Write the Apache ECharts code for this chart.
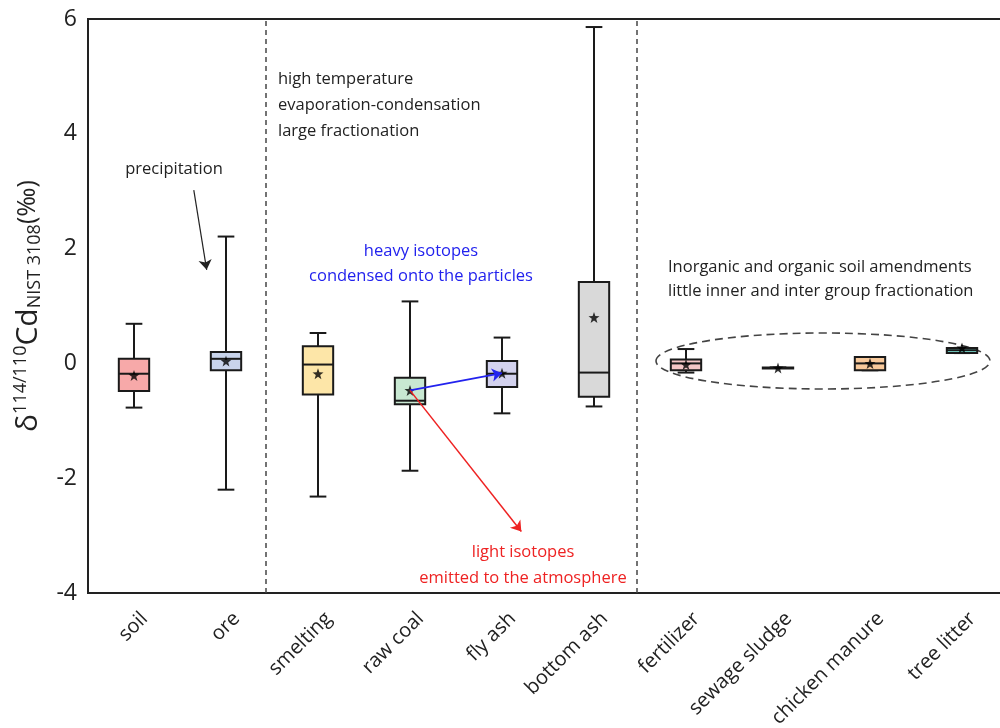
<!DOCTYPE html>
<html>
<head>
<meta charset="utf-8">
<script src="https://cdn.jsdelivr.net/npm/echarts@6/dist/echarts.min.js"></script>
<style>
  html, body { margin: 0; padding: 0; background: #fff; }
  #main { width: 1000px; height: 728px; }
</style>
</head>
<body>
<div id="main"></div>
<script>
// categories and box statistics (per mil)
var categories = ['soil', 'ore', 'smelting', 'raw coal', 'fly ash', 'bottom ash',
    'fertilizer', 'sewage sludge', 'chicken manure', 'tree litter'];
var lowWhisker = [-0.77, -2.20, -2.32, -1.87, -0.87, -0.75, -0.16, -0.08, -0.12, 0.18];
var q1 = [-0.48, -0.12, -0.54, -0.71, -0.41, -0.58, -0.12, -0.09, -0.12, 0.18];
var median = [-0.18, 0.08, -0.02, -0.65, -0.18, -0.16, 0.00, -0.08, 0.00, 0.23];
var q3 = [0.08, 0.20, 0.30, -0.25, 0.04, 1.42, 0.07, -0.07, 0.11, 0.27];
var highWhisker = [0.69, 2.21, 0.53, 1.08, 0.45, 5.86, 0.25, -0.07, 0.11, 0.27];
var mean = [-0.21, 0.04, -0.18, -0.47, -0.17, 0.80, -0.02, -0.08, 0.00, 0.27];
var boxColors = ['#f7a9a9', '#c9d4ec', '#fde6a8', '#c8e8d2', '#d3d2ee', '#d9d9d9',
    '#f5c6c6', '#eeeeee', '#f8c99b', '#80e6da'];

var star = 'path://M0,-10 L2.35,-3.24 L9.51,-3.09 L3.8,1.24 L5.88,8.09 L0,4 L-5.88,8.09 L-3.8,1.24 L-9.51,-3.09 L-2.35,-3.24 Z';
var textFont = '"Open Sans", sans-serif';
var noteFont = '16.5px ' + textFont;

var boxData = categories.map(function (c, i) {
    return [i, lowWhisker[i], q1[i], median[i], q3[i], highWhisker[i]];
});
var meanData = categories.map(function (c, i) {
    return [i, mean[i]];
});

function renderBox(params, api) {
    var i = api.value(0);
    var lo = api.coord([i, api.value(1)]);
    var b1 = api.coord([i, api.value(2)]);
    var md = api.coord([i, api.value(3)]);
    var b3 = api.coord([i, api.value(4)]);
    var hi = api.coord([i, api.value(5)]);
    var band = api.size([1, 0])[0];
    var half = band * 0.165;
    var cap = half * 0.55;
    var x = lo[0];
    var stroke = { stroke: '#1a1a1a', lineWidth: 2 };
    return {
        type: 'group',
        children: [
            { type: 'line', shape: { x1: x, y1: lo[1], x2: x, y2: hi[1] }, style: stroke },
            { type: 'line', shape: { x1: x - cap, y1: lo[1], x2: x + cap, y2: lo[1] }, style: stroke },
            { type: 'line', shape: { x1: x - cap, y1: hi[1], x2: x + cap, y2: hi[1] }, style: stroke },
            {
                type: 'rect',
                shape: { x: x - half, y: b3[1], width: half * 2, height: Math.max(b1[1] - b3[1], 0.5) },
                style: { fill: boxColors[params.dataIndex], stroke: '#1a1a1a', lineWidth: 2 }
            },
            { type: 'line', shape: { x1: x - half, y1: md[1], x2: x + half, y2: md[1] }, style: stroke }
        ]
    };
}

var chart = echarts.init(document.getElementById('main'));

var option = {
    animation: false,
    backgroundColor: '#fff',
    grid: {
        left: 88,
        right: -8,
        top: 19,
        bottom: 135,
        outerBoundsMode: 'none',
        containLabel: false,
        show: true,
        borderColor: '#222',
        borderWidth: 2
    },
    xAxis: [
        {
            type: 'category',
            data: categories,
            axisLine: { show: false },
            axisTick: { show: false },
            axisLabel: {
                rotate: 45,
                margin: 12,
                fontSize: 20,
                lineHeight: 30,
                verticalAlign: 'top',
                color: '#222',
                fontFamily: textFont,
                interval: 0
            }
        },
        {
            // hidden numeric twin of the category axis, for annotations
            type: 'value',
            min: -0.5,
            max: 9.5,
            show: false
        }
    ],
    yAxis: {
        type: 'value',
        min: -4,
        max: 6,
        interval: 2,
        axisLine: { show: false },
        axisTick: { show: false },
        splitLine: { show: false },
        axisLabel: { fontSize: 23, color: '#222', fontFamily: textFont, margin: 11 },
        name: '{d|δ}{sup|114/110}{cd|Cd}{sub|NIST 3108}{pm|(‰)}',
        nameLocation: 'middle',
        nameRotate: 90,
        nameGap: 44,
        nameTextStyle: {
            fontFamily: textFont,
            color: '#222',
            rich: {
                d: { fontSize: 30, lineHeight: 32, fontFamily: textFont, color: '#222' },
                sup: { fontSize: 18, lineHeight: 24, verticalAlign: 'top', fontFamily: textFont, color: '#222' },
                cd: { fontSize: 30, lineHeight: 32, fontFamily: textFont, color: '#222' },
                sub: { fontSize: 18, lineHeight: 24, padding: [10, 0, 0, 0], verticalAlign: 'bottom', fontFamily: textFont, color: '#222' },
                pm: { fontSize: 25, lineHeight: 32, fontFamily: textFont, color: '#222' }
            }
        }
    },
    series: [
        {
            // group separators
            type: 'lines',
            coordinateSystem: 'cartesian2d',
            xAxisIndex: 1,
            symbol: 'none',
            lineStyle: { color: '#444', width: 1.5, type: [5, 4], opacity: 1 },
            data: [
                { coords: [[1.43, -4], [1.43, 6]] },
                { coords: [[5.46, -4], [5.46, 6]] }
            ],
            silent: true
        },
        {
            type: 'custom',
            renderItem: renderBox,
            data: boxData,
            encode: { x: 0, y: [1, 2, 3, 4, 5] },
            z: 3
        },
        {
            type: 'scatter',
            data: meanData,
            symbol: star,
            symbolSize: 11,
            itemStyle: { color: '#000' },
            z: 5
        },
        {
            type: 'lines',
            coordinateSystem: 'cartesian2d',
            xAxisIndex: 1,
            symbol: ['none', 'arrow'],
            symbolSize: 10,
            lineStyle: { width: 1.2, opacity: 1, curveness: 0 },
            data: [
                { coords: [[0.65, 3.02], [0.79, 1.63]], lineStyle: { color: '#222' }, itemStyle: { color: '#222' } },
                { coords: [[3, -0.47], [4, -0.17]], lineStyle: { color: '#2222ee', width: 1.8 }, itemStyle: { color: '#2222ee' } },
                { coords: [[3, -0.47], [4.21, -2.93]], lineStyle: { color: '#ee2222', width: 1.5 }, itemStyle: { color: '#ee2222' } }
            ],
            z: 6,
            silent: true
        }
    ],
    graphic: [
        {
            type: 'text',
            x: 278, y: 66,
            style: {
                text: 'high temperature\nevaporation-condensation\nlarge fractionation',
                font: noteFont, fill: '#222', lineHeight: 26, verticalAlign: 'top'
            }
        },
        {
            type: 'text',
            x: 174, y: 161,
            style: { text: 'precipitation', font: noteFont, fill: '#222', align: 'center', verticalAlign: 'top' }
        },
        {
            type: 'text',
            x: 421, y: 239,
            style: {
                text: 'heavy isotopes\ncondensed onto the particles',
                font: noteFont, fill: '#2222ee', lineHeight: 25, align: 'center', verticalAlign: 'top'
            }
        },
        {
            type: 'text',
            x: 523, y: 539,
            style: {
                text: 'light isotopes\nemitted to the atmosphere',
                font: noteFont, fill: '#ee2222', lineHeight: 26, align: 'center', verticalAlign: 'top'
            }
        },
        {
            type: 'text',
            x: 668, y: 255,
            style: {
                text: 'Inorganic and organic soil amendments\nlittle inner and inter group fractionation',
                font: noteFont, fill: '#222', lineHeight: 24, verticalAlign: 'top'
            }
        },
        {
            type: 'ellipse',
            shape: { cx: 823, cy: 361, rx: 167, ry: 28 },
            style: { fill: 'none', stroke: '#444', lineWidth: 1.6, lineDash: [8, 5] },
            z: 1
        }
    ]
};

chart.setOption(option);
</script>
</body>
</html>
